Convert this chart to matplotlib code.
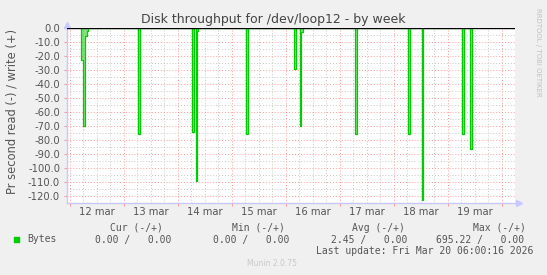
import matplotlib

matplotlib.use("Agg")
import matplotlib.pyplot as plt
from matplotlib.transforms import blended_transform_factory

# hours counted from 12 mar 00:00
X_START = -1.33
X_END = 198.0

DAY_LABELS = ["12 mar", "13 mar", "14 mar", "15 mar", "16 mar", "17 mar", "18 mar", "19 mar"]

# read spikes: start hour, width in hours, value (negative = read)
SPIKE_START = [5.0, 5.8, 6.8, 7.4, 30.2, 54.1, 55.9, 56.5, 78.3, 99.8, 102.3, 102.9,
               126.6, 150.6, 156.4, 174.6, 178.2]
SPIKE_WIDTH = [0.8, 1.0, 0.6, 0.5, 0.9, 0.9, 0.6, 0.6, 0.9, 0.6, 0.6, 0.6,
               0.9, 0.9, 0.6, 0.9, 0.7]
SPIKE_VALUE = [-23, -70, -6, -2, -76, -74, -109, -2, -76, -29, -70, -3,
               -76, -76, -122.5, -76, -86.5]

LEGEND_HEADERS = ["Cur (-/+)", "Min (-/+)", "Avg (-/+)", "Max (-/+)"]
LEGEND_VALUES = ["0.00 /   0.00", "0.00 /   0.00", "2.45 /   0.00", "695.22 /   0.00"]
LAST_UPDATE = "Last update: Fri Mar 20 06:00:16 2026"

GREEN = "#00cc00"
BG = "#f0f0f0"
TEXT = "#555555"
AXIS_BLUE = "#c8c8ff"
W, H = 547, 275


def spike_outline(starts, widths, values):
    xs, ys = [], []
    prev_end = None
    for s, w, v in zip(starts, widths, values):
        if prev_end is None or s > prev_end + 1e-6:
            if prev_end is not None:
                xs.append(prev_end)
                ys.append(0)
            xs.append(s)
            ys.append(0)
        xs += [s, s + w]
        ys += [v, v]
        prev_end = s + w
    xs.append(prev_end)
    ys.append(0)
    return xs, ys


fig = plt.figure(figsize=(W / 100, H / 100), dpi=100, facecolor=BG)
ax = fig.add_axes([67 / W, (H - 203) / H, 448 / W, 175 / H])
ax.set_facecolor("white")

ax.set_xlim(X_START, X_END)
ax.set_ylim(-125, 0)

# grid: red on days / tens, grey on 6h / fives
ax.set_xticks([24 * i for i in range(9)])
ax.set_xticks([6 * i for i in range(34) if i % 4], minor=True)
ax.set_yticks(range(-120, 1, 10))
ax.set_yticks(range(-125, 0, 10), minor=True)
ax.grid(True, which="major", color="#ff9999", linestyle=(0, (1, 2)), linewidth=0.7)
ax.grid(True, which="minor", color="#c8c8c8", linestyle=(0, (1, 2)), linewidth=0.7)
ax.set_axisbelow(True)

ax.set_xticklabels([])
ax.set_yticklabels([f"{v:.1f}" for v in range(-120, 1, 10)])
ax.tick_params(axis="y", which="major", length=2, color="#ff9999", labelsize=7.2,
               labelcolor=TEXT, pad=3)
ax.tick_params(axis="x", which="major", length=2, color="#ff9999", direction="out")
ax.tick_params(which="minor", length=0)

trans = blended_transform_factory(ax.transData, ax.transAxes)
for i, lab in enumerate(DAY_LABELS):
    ax.text(24 * i + 12, -0.05, lab, transform=trans, ha="center", va="center",
            fontsize=7.2, color=TEXT)

for side in ["top", "right"]:
    ax.spines[side].set_visible(False)
for side in ["left", "bottom"]:
    ax.spines[side].set_color(AXIS_BLUE)
    ax.spines[side].set_linewidth(1.0)

ax.plot([0], [1.02], marker="^", markersize=5, color=AXIS_BLUE, transform=ax.transAxes,
        clip_on=False)
ax.plot([1.01], [0], marker=">", markersize=5, color=AXIS_BLUE, transform=ax.transAxes,
        clip_on=False)

# data
xs, ys = spike_outline(SPIKE_START, SPIKE_WIDTH, SPIKE_VALUE)
ax.fill_between(xs, ys, 0, color=GREEN, alpha=0.5, linewidth=0, zorder=3)
ax.plot(xs, ys, color=GREEN, linewidth=0.9, zorder=4)
ax.axhline(0, color="black", linewidth=1.0, zorder=5)

# texts
fig.text(273 / W, 1 - 19 / H, "Disk throughput for /dev/loop12 - by week",
         ha="center", va="center", fontsize=9, color="#444444")
fig.text(12 / W, 1 - 111 / H, "Pr second read (-) / write (+)", rotation=90,
         ha="center", va="center", fontsize=8.3, color=TEXT)
fig.text(538 / W, 1 - 52 / H, "RRDTOOL / TOBI OETIKER", rotation=270,
         ha="center", va="center", fontsize=5, color="#c0c0c0")

mono = dict(family="DejaVu Sans Mono", fontsize=7, color=TEXT, va="center")
header_x = [110, 232, 352, 473]
value_x = [95, 213, 331, 436]
for x, txt in zip(header_x, LEGEND_HEADERS):
    fig.text(x / W, 1 - 228 / H, txt, ha="left", **mono)
fig.patches.append(plt.Rectangle((14 / W, 1 - 242 / H), 5 / W, 5 / H,
                                 transform=fig.transFigure, color=GREEN))
fig.text(27 / W, 1 - 239.5 / H, "Bytes", ha="left", **mono)
for x, txt in zip(value_x, LEGEND_VALUES):
    fig.text(x / W, 1 - 239.5 / H, txt, ha="left", **mono)
fig.text(533 / W, 1 - 251.5 / H, LAST_UPDATE, ha="right", **mono)
fig.text(272 / W, 1 - 264 / H, "Munin 2.0.75", ha="center", va="center",
         fontsize=5.5, color="#c8c8c8")

fig.savefig("out.png", dpi=100, facecolor=BG)
